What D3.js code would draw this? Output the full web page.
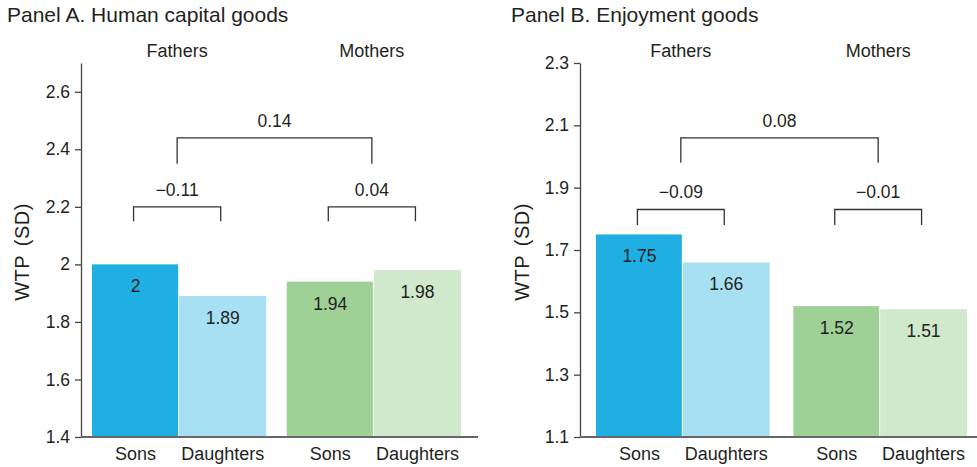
<!DOCTYPE html>
<html>
<head>
<meta charset="utf-8">
<script src="https://cdn.jsdelivr.net/npm/d3@7"></script>
<style>
  body { margin: 0; background: #fff; }
  svg text { font-family: "Liberation Sans", Arial, Helvetica, sans-serif; fill: #231f20; }
</style>
</head>
<body>
<svg id="chart" width="977" height="467"></svg>
<script>
// data
var groups = ['Fathers', 'Mothers'];
var children = ['Sons', 'Daughters'];
var valuesA = [2, 1.89, 1.94, 1.98];
var valuesB = [1.75, 1.66, 1.52, 1.51];
var diffsA = [-0.11, 0.04];
var diffsB = [-0.09, -0.01];
var parentDiffA = 0.14;
var parentDiffB = 0.08;
var ticksA = [1.4, 1.6, 1.8, 2, 2.2, 2.4, 2.6];
var ticksB = [1.1, 1.3, 1.5, 1.7, 1.9, 2.1, 2.3];

var colors = ['#1fafe3', '#a7dff3', '#9fd095', '#d0e8cc'];

var svg = d3.select('#chart');

function fmt(v) {
  var s = d3.format('.2~f')(Math.abs(v));
  return (v < 0 ? '\u2212' : '') + s;
}

function panel(opt) {
  var
    g = svg.append('g'),
    yScale = d3.scaleLinear().domain(opt.domain).range([437, 63]),
    x0 = d3.scaleBand().domain(groups).range([opt.x0, opt.x1]).paddingInner(opt.pad),
    x1 = d3.scaleBand().domain(children).range([0, x0.bandwidth()]),
    shift = -2,
    rows = []
    ;

  groups.forEach(function(p, i) {
    children.forEach(function(c, j) {
      rows.push({parent: p, child: c, value: opt.values[i * 2 + j], k: i * 2 + j});
    });
  });

  g.append('text')
    .attr('x', opt.titleX)
    .attr('y', 22)
    .attr('font-size', '21px')
    .text(opt.title);

  // bars
  g.selectAll('.bar')
    .data(rows)
    .enter()
    .append('rect')
    .attr('class', 'bar')
    .attr('x', d => x0(d.parent) + x1(d.child))
    .attr('width', d => x1.bandwidth() - (d.child === 'Sons' ? 1 : 0))
    .attr('y', d => yScale(d.value))
    .attr('height', d => yScale(opt.domain[0]) - yScale(d.value))
    .attr('fill', d => colors[d.k]);

  g.selectAll('.val')
    .data(rows)
    .enter()
    .append('text')
    .attr('class', 'val')
    .attr('x', d => x0(d.parent) + x1(d.child) + x1.bandwidth() / 2)
    .attr('y', d => yScale(d.value) + 28)
    .attr('text-anchor', 'middle')
    .attr('font-size', '17.5px')
    .text(d => fmt(d.value));

  // y axis
  var yAxis = d3.axisLeft(yScale).tickValues(opt.ticks).tickSize(6).tickSizeOuter(0).tickPadding(5)
    .tickFormat(d => d3.format('~g')(d));
  var ax = g.append('g')
    .attr('transform', 'translate(' + opt.axisX + ',0)')
    .call(yAxis);
  ax.select('.domain').attr('stroke', '#444').attr('stroke-width', 1.3);
  ax.selectAll('.tick line').attr('stroke', '#444').attr('stroke-width', 1.3);
  ax.selectAll('.tick text')
    .attr('font-size', '17.5px')
    .attr('font-family', '"Liberation Sans", Arial, sans-serif')
    .attr('fill', '#231f20');

  // baseline
  g.append('line')
    .attr('x1', opt.axisX)
    .attr('x2', opt.baseEnd)
    .attr('y1', yScale(opt.domain[0]))
    .attr('y2', yScale(opt.domain[0]))
    .attr('stroke', '#666')
    .attr('stroke-width', 2);

  // x labels
  g.selectAll('.xl')
    .data(rows)
    .enter()
    .append('text')
    .attr('class', 'xl')
    .attr('x', d => x0(d.parent) + x1(d.child) + x1.bandwidth() / 2)
    .attr('y', 460)
    .attr('text-anchor', 'middle')
    .attr('font-size', '18px')
    .text(d => d.child);

  // group labels
  g.selectAll('.gl')
    .data(groups)
    .enter()
    .append('text')
    .attr('class', 'gl')
    .attr('x', d => x0(d) + x0.bandwidth() / 2 + shift)
    .attr('y', 57)
    .attr('text-anchor', 'middle')
    .attr('font-size', '18px')
    .text(d => d);

  // y label
  g.append('text')
    .attr('transform', 'translate(' + opt.labelX + ',252) rotate(-90)')
    .attr('text-anchor', 'middle')
    .attr('font-size', '20px')
    .attr('letter-spacing', '0.5px')
    .attr('word-spacing', '3px')
    .text('WTP (SD)');

  // brackets
  function bracket(xa, xb, top, leg, label) {
    var yt = yScale(top), yl = yScale(leg);
    g.append('path')
      .attr('d', 'M' + xa + ',' + yl + 'V' + yt + 'H' + xb + 'V' + yl)
      .attr('fill', 'none')
      .attr('stroke', '#333')
      .attr('stroke-width', 1.3);
    g.append('text')
      .attr('x', (xa + xb) / 2)
      .attr('y', yt - 11)
      .attr('text-anchor', 'middle')
      .attr('font-size', '17.5px')
      .text(fmt(label));
  }

  groups.forEach(function(p, i) {
    var cs = x0(p) + x1('Sons') + x1.bandwidth() / 2 + shift,
        cd = x0(p) + x1('Daughters') + x1.bandwidth() / 2 + shift;
    bracket(cs, cd, opt.inner[0], opt.inner[1], opt.diffs[i]);
  });
  bracket(x0('Fathers') + x0.bandwidth() / 2 + shift,
          x0('Mothers') + x0.bandwidth() / 2 + shift,
          opt.outer[0], opt.outer[1], opt.parentDiff);
}

panel({
  title: 'Panel A. Human capital goods', titleX: 7,
  values: valuesA, diffs: diffsA, parentDiff: parentDiffA, ticks: ticksA,
  domain: [1.4, 2.7], axisX: 81, x0: 92, x1: 461, pad: 0.105, baseEnd: 478,
  labelX: 29, inner: [2.2, 2.15], outer: [2.44, 2.35]
});

panel({
  title: 'Panel B. Enjoyment goods', titleX: 511,
  values: valuesB, diffs: diffsB, parentDiff: parentDiffB, ticks: ticksB,
  domain: [1.1, 2.3], axisX: 580, x0: 596, x1: 967, pad: 0.12, baseEnd: 977,
  labelX: 529, inner: [1.83, 1.78], outer: [2.06, 1.98]
});
</script>
</body>
</html>
